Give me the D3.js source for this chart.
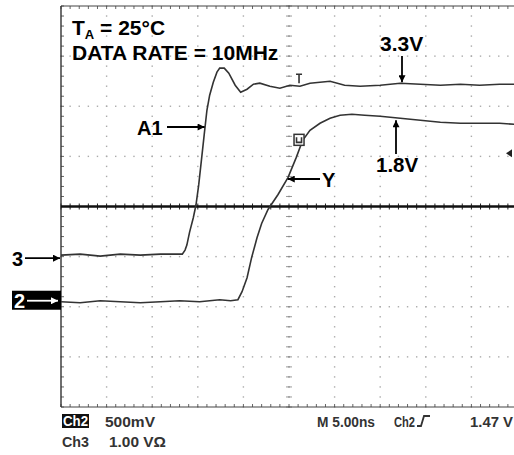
<!DOCTYPE html>
<html>
<head>
<meta charset="utf-8">
<script src="https://d3js.org/d3.v7.min.js"></script>
<style>
  body { margin: 0; background: #fff; }
  text { font-family: "Liberation Sans", Arial, sans-serif; }
</style>
</head>
<body>
<script>
// time in ns, level in volts
var ch3Trace = [
  [0, 0.06], [2.1, 0.08], [4.3, 0.04], [6.5, 0.08], [8.7, 0.06], [10.9, 0.08],
  [13.3, 0.08], [13.6, 0.16], [13.8, 0.26], [14.1, 0.52], [14.5, 0.80], [14.8, 1.06],
  [15.1, 1.46], [15.4, 1.96], [15.7, 2.46], [16.0, 2.95], [16.3, 3.25], [16.7, 3.51],
  [17.1, 3.71], [17.4, 3.79], [17.9, 3.79], [18.4, 3.69], [19.1, 3.45], [19.7, 3.31],
  [20.4, 3.37], [21.1, 3.47], [21.8, 3.49], [22.9, 3.43], [24.0, 3.39], [25.1, 3.45],
  [26.2, 3.43], [27.3, 3.49], [29.5, 3.53], [31.1, 3.45], [32.8, 3.43], [35.0, 3.45],
  [37.2, 3.49], [39.4, 3.47], [41.6, 3.45], [43.8, 3.47], [45.9, 3.45], [48.1, 3.47],
  [49.7, 3.47]
];
var ch2Trace = [
  [0, -0.01], [2.1, -0.02], [4.3, 0.0], [6.5, -0.01], [8.7, -0.02], [10.9, -0.01],
  [13.0, 0.0], [15.2, -0.01], [17.4, 0.01], [18.6, 0.0], [19.4, 0.01], [19.85, 0.09],
  [20.4, 0.23], [20.9, 0.43], [21.5, 0.63], [22.0, 0.77], [22.7, 0.91], [23.8, 1.06],
  [24.9, 1.23], [25.8, 1.43], [26.5, 1.60], [27.3, 1.70], [28.4, 1.77], [29.5, 1.82],
  [30.6, 1.85], [31.9, 1.86], [33.3, 1.85], [35.0, 1.84], [37.2, 1.82], [39.4, 1.80],
  [41.6, 1.78], [43.8, 1.77], [45.9, 1.77], [48.1, 1.77], [49.7, 1.76]
];
var statusRow1 = ["500mV", "M 5.00ns", "Ch2", "1.47 V"];
var statusRow2 = ["Ch3", "1.00 V\u03a9"];

var W = 514, H = 455;
var padL = 61, padT = 6, divW = 45.6, divH = 50.125;

var svg = d3.select("body").append("svg")
    .attr("width", W).attr("height", H);
svg.append("rect").attr("width", W).attr("height", H).attr("fill", "#fff");

// screen in divisions
var gx = d3.scaleLinear().domain([0, 10]).range([padL, padL + 10 * divW]);
var gy = d3.scaleLinear().domain([-4, 4]).range([padT + 8 * divH, padT]);
// channel scales
var x = d3.scaleLinear().domain([0, 50]).range(gx.range());
var y3 = d3.scaleLinear().domain([-2.97, 5.03]).range(gy.range());   // 1 V/div
var y2 = d3.scaleLinear().domain([-1.06, 2.94]).range(gy.range());   // 500 mV/div

var grid = svg.append("g");
var minX = d3.range(0, 10.01, 0.2), minY = d3.range(-4, 4.01, 0.2);

// dotted graticule
[1, 2, 3, 4, 6, 7, 8, 9].forEach(function (i) {
  grid.selectAll(null).data(minY).enter().append("rect")
    .attr("x", gx(i) - 0.7).attr("y", function (d) { return gy(d) - 0.7; })
    .attr("width", 1.4).attr("height", 1.4).attr("fill", "#aaa");
});
[-3, -2, -1, 1, 2, 3].forEach(function (j) {
  grid.selectAll(null).data(minX).enter().append("rect")
    .attr("x", function (d) { return gx(d) - 0.7; }).attr("y", gy(j) - 0.7)
    .attr("width", 1.4).attr("height", 1.4).attr("fill", "#aaa");
});

// centre vertical axis with ticks
grid.selectAll(null).data(minY).enter().append("line")
  .attr("x1", gx(5) - 3).attr("x2", gx(5) + 3)
  .attr("y1", function (d) { return gy(d); }).attr("y2", function (d) { return gy(d); })
  .attr("stroke", "#999").attr("stroke-width", 1);
grid.selectAll(null).data(minY).enter().append("rect")
  .attr("x", gx(5) - 0.7).attr("y", function (d) { return gy(d) - 0.7; })
  .attr("width", 1.4).attr("height", 1.4).attr("fill", "#888");

// frame ticks
grid.selectAll(null).data(minX).enter().append("line")
  .attr("x1", function (d) { return gx(d); }).attr("x2", function (d) { return gx(d); })
  .attr("y1", gy(4)).attr("y2", gy(4) + 3).attr("stroke", "#666");
grid.selectAll(null).data(minX).enter().append("line")
  .attr("x1", function (d) { return gx(d); }).attr("x2", function (d) { return gx(d); })
  .attr("y1", gy(-4)).attr("y2", gy(-4) - 3).attr("stroke", "#666");
grid.selectAll(null).data(minY).enter().append("line")
  .attr("x1", gx(0)).attr("x2", gx(0) + 3)
  .attr("y1", function (d) { return gy(d); }).attr("y2", function (d) { return gy(d); })
  .attr("stroke", "#666");
grid.selectAll(null).data(minX).enter().append("line")
  .attr("x1", function (d) { return gx(d); }).attr("x2", function (d) { return gx(d); })
  .attr("y1", gy(0) - 3).attr("y2", gy(0) + 3).attr("stroke", "#222");

// frame
grid.append("line").attr("x1", gx(0)).attr("x2", gx(10)).attr("y1", gy(4)).attr("y2", gy(4))
  .attr("stroke", "#444").attr("stroke-width", 1.2);
grid.append("line").attr("x1", gx(0)).attr("x2", gx(10)).attr("y1", gy(-4)).attr("y2", gy(-4))
  .attr("stroke", "#444").attr("stroke-width", 1.2);
grid.append("line").attr("x1", gx(0)).attr("x2", gx(0)).attr("y1", gy(4)).attr("y2", gy(-4))
  .attr("stroke", "#333").attr("stroke-width", 1.4);
grid.append("line").attr("x1", gx(0)).attr("x2", gx(10)).attr("y1", gy(0)).attr("y2", gy(0))
  .attr("stroke", "#111").attr("stroke-width", 2.6);

// traces
svg.append("path").datum(ch3Trace)
  .attr("d", d3.line().x(function (d) { return x(d[0]); }).y(function (d) { return y3(d[1]); }))
  .attr("fill", "none").attr("stroke", "#333").attr("stroke-width", 1.6);
svg.append("path").datum(ch2Trace)
  .attr("d", d3.line().x(function (d) { return x(d[0]); }).y(function (d) { return y2(d[1]); }))
  .attr("fill", "none").attr("stroke", "#333").attr("stroke-width", 1.6);

// arrowheads
var defs = svg.append("defs");
["black", "white"].forEach(function (c) {
  defs.append("marker").attr("id", "ah-" + c)
    .attr("viewBox", "0 0 10 10").attr("refX", 10).attr("refY", 5)
    .attr("markerWidth", 10).attr("markerHeight", 7).attr("markerUnits", "userSpaceOnUse")
    .attr("orient", "auto")
    .append("path").attr("d", "M0,0L10,5L0,10Z").attr("fill", c);
});
function arrow(x1, y1, x2, y2, c) {
  svg.append("line").attr("x1", x1).attr("y1", y1).attr("x2", x2).attr("y2", y2)
    .attr("stroke", c || "black").attr("stroke-width", 1.8)
    .attr("marker-end", "url(#ah-" + (c || "black") + ")");
}
function label(tx, ty, s, size, c) {
  return svg.append("text").attr("x", tx).attr("y", ty).text(s)
    .attr("font-size", size).attr("font-weight", "bold").attr("fill", c || "black");
}

// titles
var t1 = svg.append("text").attr("x", 72).attr("y", 35)
  .attr("font-size", 21).attr("font-weight", "bold");
t1.append("tspan").text("T");
t1.append("tspan").text("A").attr("font-size", 13).attr("dy", 3.5);
t1.append("tspan").text(" = 25\u00b0C").attr("dy", -3.5);
label(72, 60, "DATA RATE = 10MHz", 21);

// trace labels
label(137, 135, "A1", 20);
arrow(167, 127, x(15.75), 127);
label(380, 51, "3.3V", 21);
arrow(402, 56, 402, y3(3.47) - 2);
label(376, 172, "1.8V", 20.5);
arrow(396, 154, 396, y2(1.83) + 3);
label(322, 187, "Y", 20);
arrow(320, 179, x(24.75) + 1, 179);

// ground markers
label(12, 266, "3", 20);
arrow(25, y3(0), gx(0) - 1, y3(0));
svg.append("rect").attr("x", 12).attr("y", y2(0) - 10).attr("width", gx(0) - 12).attr("height", 19)
  .attr("fill", "black");
label(14, y2(0) + 7, "2", 20, "white");
arrow(27, y2(0), gx(0) - 3, y2(0), "white");

// cursors / trigger marker
svg.append("path")
  .attr("d", "M" + (x(26.1) - 3) + "," + (y3(3.47) - 10) + "h6M" + x(26.1) + "," + (y3(3.47) - 10) + "v9")
  .attr("stroke", "#333").attr("stroke-width", 1.6).attr("fill", "none");
svg.append("rect").attr("x", x(26.1) - 5).attr("y", y2(1.6) - 6).attr("width", 10).attr("height", 11)
  .attr("fill", "#fff").attr("stroke", "#333").attr("stroke-width", 1.5);
svg.append("path")
  .attr("d", "M" + (x(26.1) - 2.5) + "," + (y2(1.6) - 3) + "v5h5v-5")
  .attr("stroke", "#333").attr("stroke-width", 1.6).attr("fill", "none");
svg.append("path")
  .attr("d", "M" + 506 + "," + y2(1.47) + "l6,-4v8Z").attr("fill", "#222");

// status line
var sfont = 14;
function status(tx, ty, s, c, len) {
  var t = svg.append("text").attr("x", tx).attr("y", ty).text(s)
    .attr("font-size", sfont).attr("font-weight", "bold").attr("fill", c || "#333");
  if (len) t.attr("textLength", len).attr("lengthAdjust", "spacingAndGlyphs");
  return t;
}
svg.append("rect").attr("x", 62).attr("y", 414).attr("width", 27).attr("height", 14).attr("fill", "#111");
status(63, 426, "Ch2", "#fff", 25);
status(105, 427, statusRow1[0], null, 50);
status(317, 427, statusRow1[1], null, 58);
status(394, 427, statusRow1[2], null, 21);
svg.append("path").attr("d", "M417,426h4l3,-10h6").attr("stroke", "#333").attr("stroke-width", 1.8).attr("fill", "none");
status(470, 427, statusRow1[3], null, 43);
status(62, 447, statusRow2[0], null, 27);
status(109, 447, statusRow2[1], null, 57);
</script>
</body>
</html>
